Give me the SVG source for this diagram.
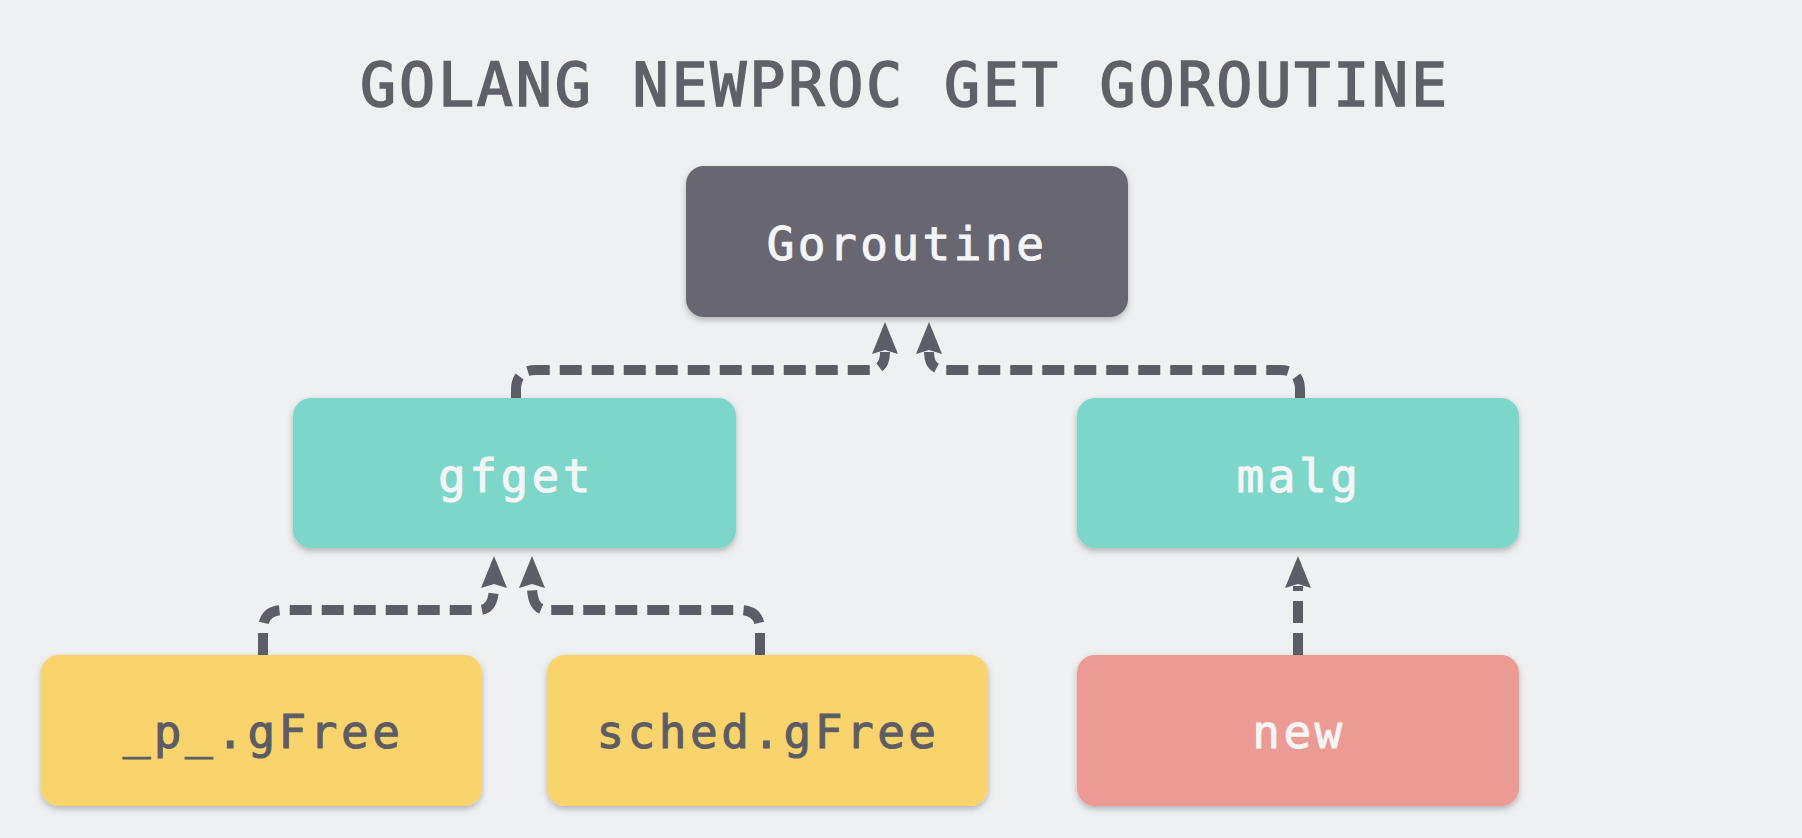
<svg xmlns="http://www.w3.org/2000/svg" width="1802" height="838" viewBox="0 0 1802 838">
<style>
.title{font-family:"DejaVu Sans Mono","Liberation Mono",monospace;font-size:60px;fill:#606068;stroke:#606068;stroke-width:1.6px;letter-spacing:2.8px}
.lbl{font-family:"DejaVu Sans Mono","Liberation Mono",monospace;font-size:46px;letter-spacing:3.5px;text-anchor:middle;stroke-width:1px}
.light{fill:#f4f5f5;stroke:#f4f5f5}
.dark{fill:#5c5c65;stroke:#5c5c65}
.box{filter:url(#sh)}
.conn{fill:none;stroke:#5d5d67;stroke-width:10;stroke-dasharray:22 10;marker-end:url(#arr)}
</style>
<defs>
<filter id="sh" x="-10%" y="-10%" width="120%" height="130%">
<feDropShadow dx="0" dy="3" stdDeviation="3" flood-color="#000" flood-opacity="0.25"/>
</filter>
<marker id="arr" markerUnits="userSpaceOnUse" markerWidth="34" markerHeight="30" refX="2" refY="14" orient="auto" viewBox="0 0 34 28">
<path d="M0,1 L32,14 L0,27 L4,14 z" fill="#5d5d67"/>
</marker>
</defs>
<rect width="1802" height="838" fill="#eff0f1"/>
<text class="title" x="905" y="106" text-anchor="middle">GOLANG NEWPROC GET GOROUTINE</text>
<g id="connectors">
<path class="conn" d="M516,398 V390 Q516,370 536,370 H870 Q885,370 885,352"/>
<path class="conn" d="M1300,398 V390 Q1300,370 1280,370 H945 Q929,370 929,352"/>
<path class="conn" d="M263,655 V630 Q263,610 283,610 H479 Q494,610 494,586"/>
<path class="conn" d="M760,655 V630 Q760,610 740,610 H547 Q532,610 532,586"/>
<path class="conn" d="M1298,655 V586"/>
</g>
<g id="goroutine">
<rect class="box" x="686" y="166" width="442" height="151" rx="18" fill="#67666f"/>
<text class="lbl light" x="907" y="260">Goroutine</text>
</g>
<g id="gfget">
<rect class="box" x="293" y="398" width="443" height="150" rx="18" fill="#7cd7ca"/>
<text class="lbl light" x="516" y="492">gfget</text>
</g>
<g id="malg">
<rect class="box" x="1077" y="398" width="442" height="150" rx="18" fill="#7cd7ca"/>
<text class="lbl light" x="1299" y="492">malg</text>
</g>
<g id="p_gfree">
<rect class="box" x="41" y="655" width="441" height="151" rx="18" fill="#f9d46d"/>
<text class="lbl dark" x="263" y="748">_p_.gFree</text>
</g>
<g id="sched_gfree">
<rect class="box" x="547" y="655" width="441" height="151" rx="18" fill="#f9d46d"/>
<text class="lbl dark" x="768" y="748">sched.gFree</text>
</g>
<g id="new">
<rect class="box" x="1077" y="655" width="442" height="151" rx="18" fill="#ec9a94"/>
<text class="lbl light" x="1299" y="748">new</text>
</g>
</svg>
